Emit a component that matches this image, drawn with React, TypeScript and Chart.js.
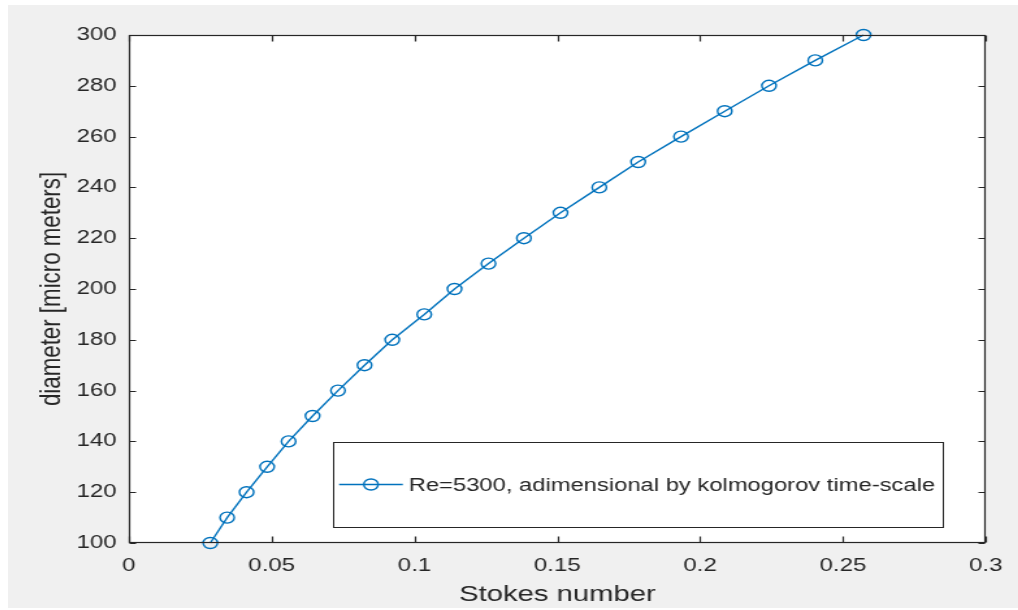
import React, { useEffect, useRef } from "react";
import { Chart, registerables } from "chart.js";

Chart.register(...registerables);

// ---- data ----
const diameters = [100, 110, 120, 130, 140, 150, 160, 170, 180, 190, 200, 210, 220, 230, 240, 250, 260, 270, 280, 290, 300];
const stokes = [0.0285, 0.0344, 0.0412, 0.0484, 0.0559, 0.0643, 0.0732, 0.0825, 0.0922, 0.1034, 0.114, 0.1259, 0.1383, 0.1511, 0.1647, 0.1783, 0.1933, 0.2086, 0.2241, 0.2403, 0.2572];
const xTickValues = [0, 0.05, 0.1, 0.15, 0.2, 0.25, 0.3];
const yTickValues = [100, 120, 140, 160, 180, 200, 220, 240, 260, 280, 300];
const seriesLabel = "Re=5300, adimensional by kolmogorov time-scale";
const xTitle = "Stokes number";
const yTitle = "diameter [micro meters]";

const FONT = "'Liberation Sans', Arial, sans-serif";
const AXIS_COLOR = "#262626";
const LINE_COLOR = "#0072BD";
const SX = 1.3;
const W = 777;
const H = 603;

const matlabAxes = {
  id: "matlabAxes",
  beforeDraw(chart: any) {
    const { ctx, chartArea: a } = chart;
    ctx.save();
    ctx.fillStyle = "#ffffff";
    ctx.fillRect(a.left, a.top, a.right - a.left, a.bottom - a.top);
    ctx.restore();
  },
  afterDatasetsDraw(chart: any) {
    const { ctx, chartArea: a } = chart;
    const xs = chart.scales.x;
    const ys = chart.scales.y;
    ctx.save();
    ctx.strokeStyle = AXIS_COLOR;
    ctx.lineWidth = 1.2;
    const L = Math.round(a.left) + 0.5;
    const R = Math.round(a.right) - 0.5;
    const T = Math.round(a.top) + 0.5;
    const B = Math.round(a.bottom) - 0.5;
    ctx.strokeRect(L, T, R - L, B - T);
    ctx.beginPath();
    xTickValues.forEach((v) => {
      const px = Math.round(xs.getPixelForValue(v)) + 0.5;
      ctx.moveTo(px, B);
      ctx.lineTo(px, B - 6);
      ctx.moveTo(px, T);
      ctx.lineTo(px, T + 6);
    });
    yTickValues.forEach((v) => {
      const py = Math.round(ys.getPixelForValue(v)) + 0.5;
      ctx.moveTo(L, py);
      ctx.lineTo(L + 5, py);
      ctx.moveTo(R, py);
      ctx.lineTo(R - 5, py);
    });
    ctx.stroke();
    ctx.restore();
  },
  afterDraw(chart: any) {
    const { ctx, chartArea: a } = chart;
    ctx.save();
    ctx.font = `18.3px ${FONT}`;
    const tw = ctx.measureText(seriesLabel).width;
    const boxW = 58.5 + tw + 6;
    const boxH = 85;
    const right = a.right - 33;
    const bottom = a.bottom - 16;
    const left = right - boxW;
    const top = bottom - boxH;
    ctx.fillStyle = "#ffffff";
    ctx.fillRect(left, top, boxW, boxH);
    ctx.strokeStyle = AXIS_COLOR;
    ctx.lineWidth = 1;
    ctx.strokeRect(Math.round(left) + 0.5, Math.round(top) + 0.5, Math.round(boxW), Math.round(boxH));
    const cy = top + boxH / 2;
    ctx.strokeStyle = LINE_COLOR;
    ctx.lineWidth = 1.4;
    ctx.beginPath();
    ctx.moveTo(left + 5, cy);
    ctx.lineTo(left + 54, cy);
    ctx.stroke();
    ctx.beginPath();
    ctx.arc(left + 29.5, cy, 5.5, 0, Math.PI * 2);
    ctx.stroke();
    ctx.fillStyle = AXIS_COLOR;
    ctx.textBaseline = "middle";
    ctx.textAlign = "left";
    ctx.fillText(seriesLabel, left + 58.5, cy + 1);
    ctx.restore();
  },
};

export default function App() {
  const ref = useRef<HTMLCanvasElement | null>(null);

  useEffect(() => {
    if (!ref.current) return;
    const chart = new Chart(ref.current, {
      type: "line",
      data: {
        datasets: [
          {
            label: seriesLabel,
            data: stokes.map((s, i) => ({ x: s, y: diameters[i] })),
            borderColor: LINE_COLOR,
            borderWidth: 1.4,
            pointStyle: "circle",
            pointRadius: 5.5,
            pointBorderWidth: 1.4,
            pointBorderColor: LINE_COLOR,
            pointBackgroundColor: "rgba(0,0,0,0)",
            fill: false,
            tension: 0,
            clip: false as any,
          },
        ],
      },
      options: {
        animation: false,
        responsive: false,
        devicePixelRatio: 1,
        layout: { padding: { top: 30, right: 23, left: 0, bottom: 0 } },
        plugins: {
          legend: { display: false },
          tooltip: { enabled: false },
        },
        scales: {
          x: {
            type: "linear",
            min: 0,
            max: 0.3,
            grid: { display: false, drawTicks: false },
            border: { display: false },
            afterBuildTicks: (s: any) => {
              s.ticks = xTickValues.map((v) => ({ value: v }));
            },
            afterFit: (s: any) => {
              s.height = 65;
            },
            ticks: {
              autoSkip: false,
              maxRotation: 0,
              padding: 12,
              color: AXIS_COLOR,
              font: { family: FONT, size: 18.5 },
              callback: (v: any) => String(v),
            },
            title: {
              display: true,
              text: xTitle,
              color: AXIS_COLOR,
              font: { family: FONT, size: 22.5 },
              padding: { top: 0, bottom: 0 },
            },
          },
          y: {
            type: "linear",
            min: 100,
            max: 300,
            grid: { display: false, drawTicks: false },
            border: { display: false },
            afterBuildTicks: (s: any) => {
              s.ticks = yTickValues.map((v) => ({ value: v }));
            },
            afterFit: (s: any) => {
              s.width = 93;
            },
            ticks: {
              autoSkip: false,
              padding: 9.5,
              color: AXIS_COLOR,
              font: { family: FONT, size: 18.5 },
              callback: (v: any) => String(v),
            },
            title: {
              display: true,
              text: yTitle,
              color: AXIS_COLOR,
              font: { family: FONT, size: 22.3 },
              padding: { top: 20, bottom: 0 },
            },
          },
        },
      },
      plugins: [matlabAxes],
    } as any);
    return () => chart.destroy();
  }, []);

  return (
    <div
      style={{
        position: "absolute",
        left: 8,
        top: 5,
        width: 1010,
        height: H,
        background: "#f0f0f0",
        overflow: "hidden",
      }}
    >
      <div
        style={{
          width: W,
          height: H,
          transform: `scaleX(${SX})`,
          transformOrigin: "0 0",
        }}
      >
        <canvas ref={ref} width={W} height={H} style={{ display: "block" }} />
      </div>
    </div>
  );
}
